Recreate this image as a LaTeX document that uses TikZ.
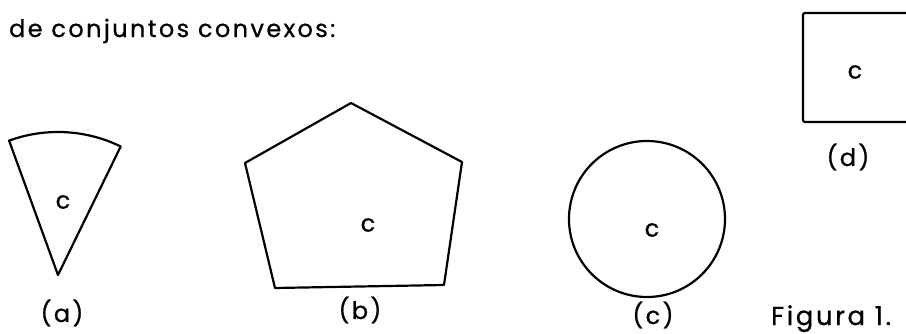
\documentclass[tikz,border=0pt]{standalone}
\usepackage{fontspec}
\setmainfont{Poppins}[LetterSpace=10, FakeBold=0.8]
\usepackage{tikz}

\begin{document}
\begin{tikzpicture}[x=1pt, y=1pt, line width=2.2pt, line join=round,
    txt/.style={font=\fontsize{24}{28}\selectfont, inner sep=0pt}]
    \useasboundingbox (0,0) rectangle (906,333);

    \node[txt, anchor=base west] (titulo) at (8,296) {de conjuntos convexos:};

    % Sector (a)
    \draw (58,58) -- ++(110:143) arc[start angle=110, end angle=64, radius=143] -- cycle;
    \node[txt] (ca) at (63,131) {c};
    \node[txt] (la) at (62,20) {(a)};

    % Pentagono (b)
    \draw (351,230) -- (462,171) -- (444,48) -- (275,45) -- (245,170) -- cycle;
    \node[txt] (cb) at (368,108) {c};
    \node[txt] (lb) at (360,23) {(b)};

    % Circulo (c)
    \draw (647,114) circle (78);
    \node[txt] (cc) at (652,103) {c};
    \node[txt] (lc) at (653,18) {(c)};

    % Rectangulo (d), cortado por el borde
    \draw[rounded corners=2pt] (906,320) -- (803,320) -- (803,211) -- (906,211);
    \node[txt] (cd) at (855,261) {c};
    \node[txt] (ld) at (848,176) {(d)};

    \node[txt, anchor=base west, font=\fontsize{26}{30}\selectfont] (figura) at (770,8) {Figura 1.};
\end{tikzpicture}
\end{document}
